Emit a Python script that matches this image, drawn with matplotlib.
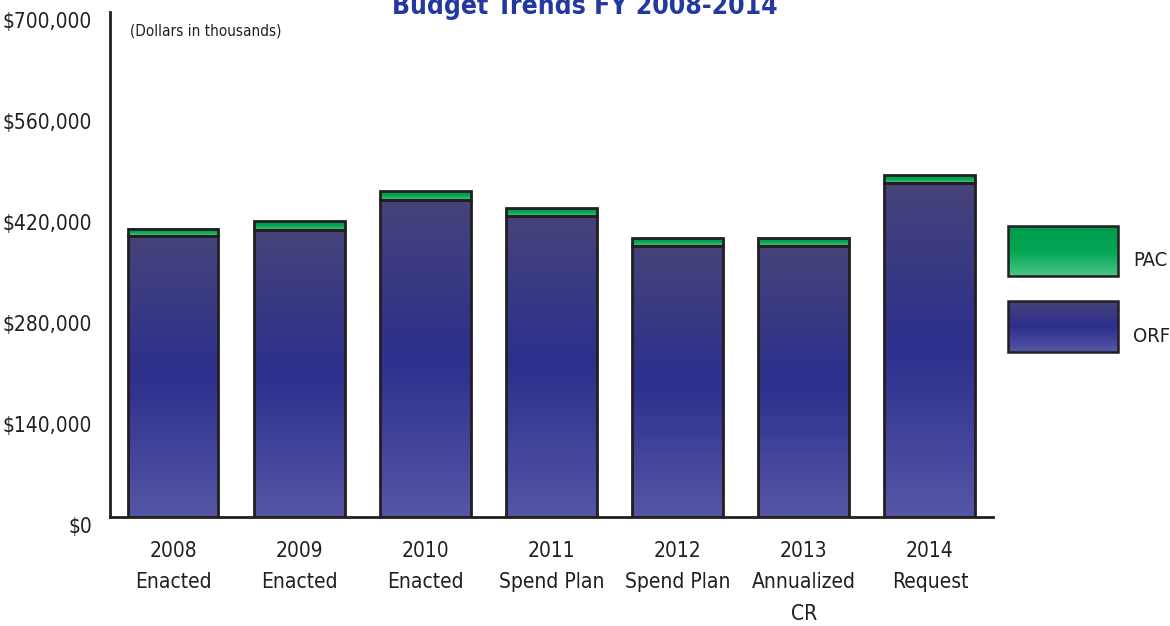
import matplotlib
matplotlib.use("Agg")
import matplotlib.pyplot as plt
import numpy as np
from matplotlib.colors import LinearSegmentedColormap
from matplotlib.patches import Rectangle

plt.rcParams['font.family'] = ['DejaVu Sans']
plt.rcParams['font.stretch'] = 'condensed'

years = ["2008\nEnacted", "2009\nEnacted", "2010\nEnacted", "2011\nSpend Plan",
         "2012\nSpend Plan", "2013\nAnnualized\nCR", "2014\nRequest"]
orf = [389000, 398000, 440000, 417500, 376000, 376000, 463000]
pac = [10500, 12000, 11500, 11000, 10300, 10300, 11000]
yticks = [0, 140000, 280000, 420000, 560000, 700000]

# colour stops listed top -> bottom
orf_cmap = LinearSegmentedColormap.from_list("orf", ["#46437a", "#2c2f8c", "#5656a6"])
pac_cmap = LinearSegmentedColormap.from_list("pac", ["#009a4e", "#00a651", "#4cc488"])
edge = "#231f20"
grad = np.linspace(0, 1, 256).reshape(-1, 1)


def gradient_box(ax, x0, y0, w, h, cmap, lw=2, y_up=True):
    g = grad[::-1] if y_up else grad
    ax.imshow(g, cmap=cmap, aspect="auto", extent=(x0, x0 + w, y0, y0 + h),
              origin="lower", zorder=2, interpolation="bicubic")
    ax.add_patch(Rectangle((x0, y0), w, h, fill=False, edgecolor=edge, lw=lw, zorder=3))


fig = plt.figure(figsize=(11.7, 6.26), dpi=100)
ax = fig.add_axes([0.094, 0.174, 0.7547, 0.807])

width = 0.72
for i in range(len(years)):
    x0 = i - width / 2
    gradient_box(ax, x0, 0, width, orf[i], orf_cmap)
    gradient_box(ax, x0, orf[i], width, pac[i], pac_cmap)

ax.set_xlim(-0.5, 6.5)
ax.set_ylim(0, 700000)
ax.set_yticks(yticks)
ax.set_yticklabels(["$" + format(v, ",") for v in yticks], fontsize=15, color=edge)
ax.set_xticks(range(len(years)))
ax.set_xticklabels(years, fontsize=15, color=edge, linespacing=1.72)
ax.tick_params(axis="x", length=0, pad=17)
ax.tick_params(axis="y", length=0, pad=13)
for lbl in ax.get_yticklabels():
    lbl.set_verticalalignment("top")
ax.spines[["top", "right"]].set_visible(False)
ax.spines[["left", "bottom"]].set_linewidth(2)
ax.spines[["left", "bottom"]].set_color(edge)

ax.text(0.023, 0.978, "(Dollars in thousands)", transform=ax.transAxes,
        fontsize=11, color=edge, va="top")
fig.text(0.5, 1 - 14 / 626, "Budget Trends FY 2008-2014", ha="center", va="baseline",
         fontsize=19, fontweight="bold", color="#2338a0")

# legend drawn as gradient boxes in pixel coordinates
lax = fig.add_axes([0, 0, 1, 1], facecolor="none")
lax.set_xlim(0, 1170)
lax.set_ylim(626, 0)
lax.axis("off")
gradient_box(lax, 1008, 226, 110, 50, pac_cmap, lw=1.8, y_up=False)
gradient_box(lax, 1008, 301, 110, 51, orf_cmap, lw=1.8, y_up=False)
lax.text(1133, 261, "PAC", fontsize=14.5, color=edge, va="center")
lax.text(1133, 337, "ORF", fontsize=14.5, color=edge, va="center")
lax.set_xlim(0, 1170)
lax.set_ylim(626, 0)

fig.savefig("out.png", dpi=100)
